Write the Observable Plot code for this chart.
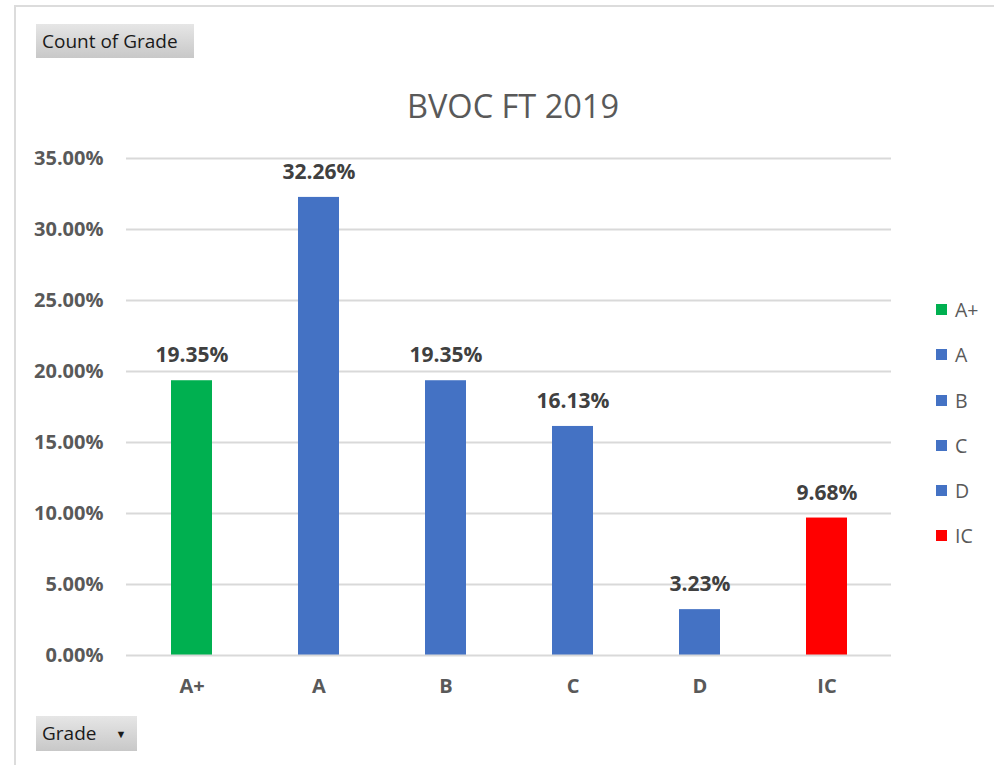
<!DOCTYPE html>
<html>
<head>
<meta charset="utf-8">
<script src="https://cdn.jsdelivr.net/npm/d3@7"></script>
<script src="https://cdn.jsdelivr.net/npm/@observablehq/plot@0.6"></script>
<style>
  html, body { margin: 0; padding: 0; background: #fff; overflow: hidden; width: 994px; height: 765px; }
  body { position: relative; font-family: "Open Sans", Lato, sans-serif; }
  #frame { position: absolute; left: 14px; top: 5px; width: 1000px; height: 800px; border: 2px solid #dcdcdc; box-sizing: border-box; }
  #chart { position: absolute; left: 0; top: 0; }
  .btn { position: absolute; background: linear-gradient(#e6e6e6, #c8c8c8); color: #1a1a1a; font-size: 19px; line-height: 34px; padding: 0 6px; box-sizing: border-box; white-space: nowrap; }
  #title { position: absolute; left: 0; width: 1026px; top: 83px; text-align: center; font-size: 32.5px; color: #595959; }
  #legend { position: absolute; left: 936px; top: 0; }
  .li { position: absolute; left: 0; display: flex; align-items: center; font-size: 19.5px; color: #595959; white-space: nowrap; }
  .sw { width: 11px; height: 11px; margin-right: 8px; }
</style>
</head>
<body>
<div id="frame"></div>
<div id="chart"></div>
<div id="title">BVOC FT 2019</div>
<div class="btn" style="left:36px; top:24px; width:158px; height:34px;">Count of Grade</div>
<div class="btn" style="left:36px; top:716px; width:101px; height:35px;">Grade <span style="font-size:11px; margin-left:14px; position:relative; top:-2px;">&#9660;</span></div>
<div id="legend"></div>
<script>
const grades = ["A+", "A", "B", "C", "D", "IC"];
const shares = [0.1935, 0.3226, 0.1935, 0.1613, 0.0323, 0.0968];
const colors = ["#00b050", "#4472c4", "#4472c4", "#4472c4", "#4472c4", "#ff0000"];
const yTicks = [0, 0.05, 0.10, 0.15, 0.20, 0.25, 0.30, 0.35];

const data = grades.map((g, i) => ({grade: g, share: shares[i], color: colors[i]}));
const pct = d3.format(".2%");

const chart = Plot.plot({
  width: 994,
  height: 765,
  marginLeft: 126,
  marginRight: 103,
  marginTop: 158,
  marginBottom: 110,
  style: {fontFamily: "'Open Sans', Lato, sans-serif", background: "transparent", overflow: "visible"},
  x: {domain: grades, paddingInner: 0.68, paddingOuter: 0.34, label: null},
  y: {domain: [0, 0.35], ticks: yTicks, tickFormat: pct, label: null},
  marks: [
    Plot.gridY(yTicks.filter(t => t > 0), {stroke: "#d9d9d9", strokeOpacity: 1, strokeWidth: 2}),
    Plot.barY(data, {x: "grade", y: "share", fill: "color"}),
    Plot.ruleY([0], {stroke: "#d9d9d9", strokeWidth: 2}),
    Plot.text(data, {x: "grade", y: "share", text: d => pct(d.share), dy: -25, fontSize: 21, fontWeight: "bold", fill: "#404040"}),
    Plot.axisY({ticks: yTicks, tickFormat: pct, tickSize: 0, tickPadding: 23, fontSize: 20, fontWeight: "bold", fill: "#595959", label: null}),
    Plot.axisX({tickSize: 0, tickPadding: 23, fontSize: 20, fontWeight: "bold", fill: "#595959", label: null})
  ]
});
document.getElementById("chart").appendChild(chart);

const legend = document.getElementById("legend");
const legendY = [310, 355, 401, 446, 491, 536];
grades.forEach((g, i) => {
  const li = document.createElement("div");
  li.className = "li";
  li.style.top = (legendY[i] - 14) + "px";
  li.innerHTML = `<span class="sw" style="background:${colors[i]}"></span><span>${g}</span>`;
  legend.appendChild(li);
});
</script>
</body>
</html>
